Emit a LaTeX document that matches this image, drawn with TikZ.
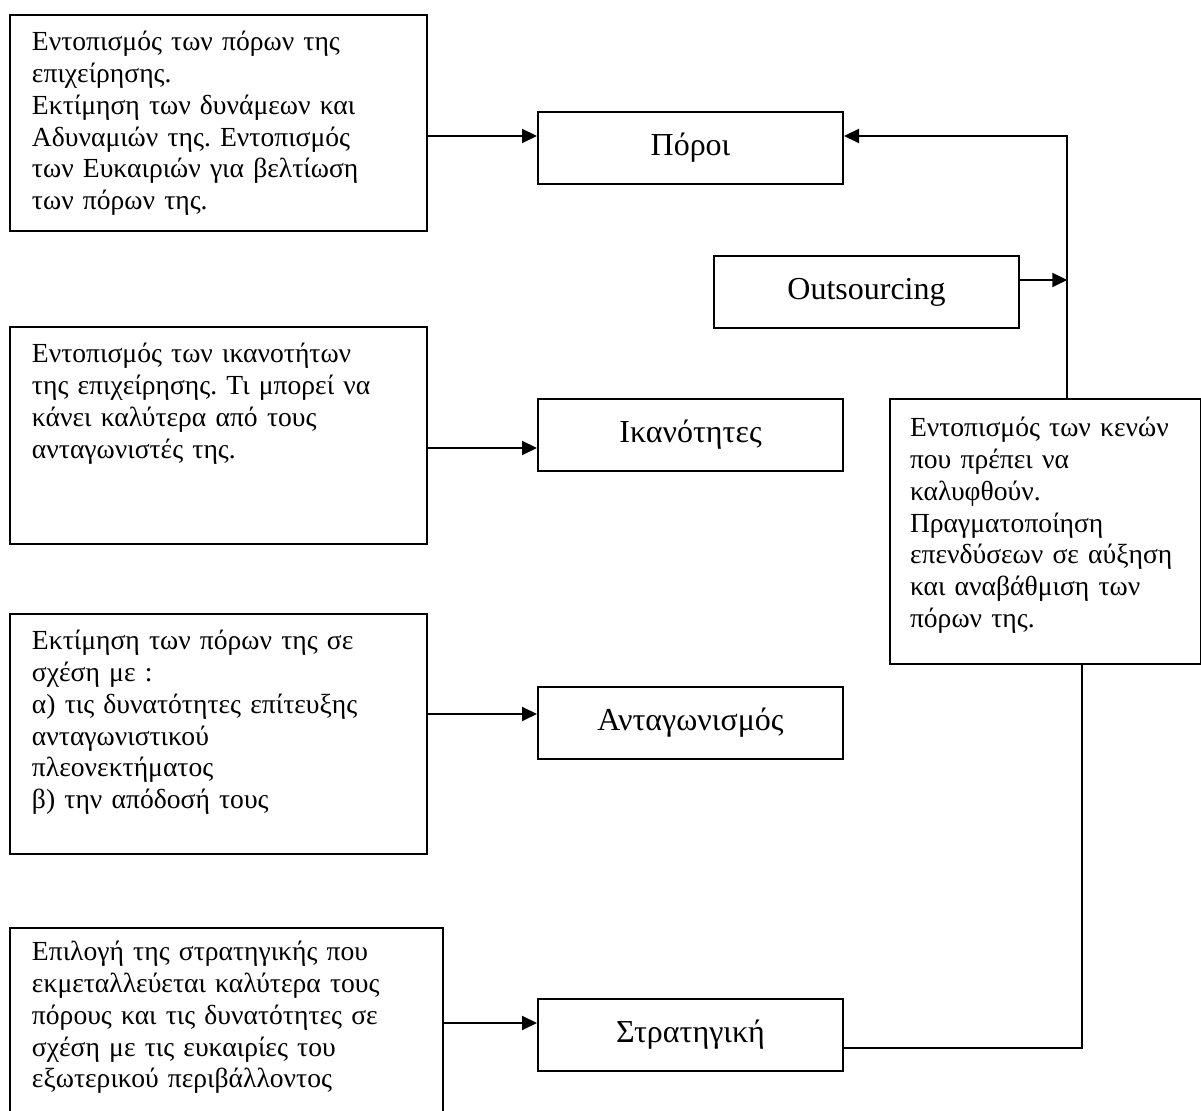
\documentclass[tikz,border=0pt]{standalone}
\usepackage{fontspec}
\setmainfont{Liberation Serif}
\usepackage{tikz}
\usetikzlibrary{arrows.meta,positioning}
\frenchspacing
\tikzset{
  notebox/.style={
    draw,
    line width=1pt,
    anchor=north west,
    align=left,
    inner xsep=11pt,
    inner ysep=0pt,
    text height=18pt,
    font=\fontsize{13.8}{15.85}\selectfont
  },
  stepbox/.style={
    draw,
    line width=1pt,
    anchor=north west,
    minimum width=152.5pt,
    minimum height=36pt,
    inner sep=0pt,
    font=\fontsize{16}{19}\selectfont
  },
  gflow/.style={-{Triangle[length=7.5pt,width=7pt]}, line width=1pt},
  glink/.style={line width=1pt}
}

\begin{document}
\begin{tikzpicture}[x=0.5pt,y=-0.5pt]
  \useasboundingbox (0,0) rectangle (1201,1111);
  % left column: notes
  \node[notebox, text width=186.5pt, text depth=90pt] (resnote) at (9,14)
    {Εντοπισμός των πόρων της\\επιχείρησης.\\Εκτίμηση των δυνάμεων και\\Αδυναμιών της. Εντοπισμός\\των Ευκαιριών για βελτίωση\\των πόρων της.};
  \node[notebox, text width=186.5pt, text depth=90.5pt] (capnote) at (9,326)
    {Εντοπισμός των ικανοτήτων\\της επιχείρησης. Τι μπορεί να\\κάνει καλύτερα από τους\\ανταγωνιστές της.};
  \node[notebox, text width=186.5pt, text depth=102pt] (compnote) at (9,613)
    {Εκτίμηση των πόρων της σε\\σχέση με :\\α) τις δυνατότητες επίτευξης\\ανταγωνιστικού\\πλεονεκτήματος\\β) την απόδοσή τους};
  \node[notebox, text width=194.5pt, text height=16.5pt, text depth=78pt] (stratnote) at (9,927)
    {Επιλογή της στρατηγικής που\\εκμεταλλεύεται καλύτερα τους\\πόρους και τις δυνατότητες σε\\σχέση με τις ευκαιρίες του\\εξωτερικού περιβάλλοντος};
  % middle column: steps
  \node[stepbox] (poroi) at (537,111) {Πόροι};
  \node[stepbox] (outs) at (713,255) {Outsourcing};
  \node[stepbox] (ikan) at (537,398) {Ικανότητες};
  \node[stepbox] (antag) at (537,686) {Ανταγωνισμός};
  \node[stepbox] (strat) at (537,998) {Στρατηγική};
  % right: gaps
  \node[notebox, inner xsep=10pt, text width=135.25pt, text height=19pt, text depth=113.5pt] (gaps) at (889,398)
    {Εντοπισμός των κενών\\που πρέπει να\\καλυφθούν.\\Πραγματοποίηση\\επενδύσεων σε αύξηση\\και αναβάθμιση των\\πόρων της.};
  \coordinate (bus) at ([xshift=11pt]gaps.north);
  \draw[gflow] ([yshift=6pt]poroi.west -| resnote.east) -- ([yshift=6pt]poroi.west);
  \draw[gflow] ([yshift=-6.5pt]ikan.west -| capnote.east) -- ([yshift=-6.5pt]ikan.west);
  \draw[gflow] ([yshift=4.5pt]antag.west -| compnote.east) -- ([yshift=4.5pt]antag.west);
  \draw[gflow] ([yshift=6pt]strat.west -| stratnote.east) -- ([yshift=6pt]strat.west);
  \draw[gflow] (bus) |- ([yshift=6pt]poroi.east);
  \draw[gflow] ([yshift=6pt]outs.east) -- ([yshift=6pt]outs.east -| bus);
  \draw[glink] ([yshift=-6.5pt]strat.east) -| ([xshift=18.5pt]gaps.south);
\end{tikzpicture}
\end{document}
